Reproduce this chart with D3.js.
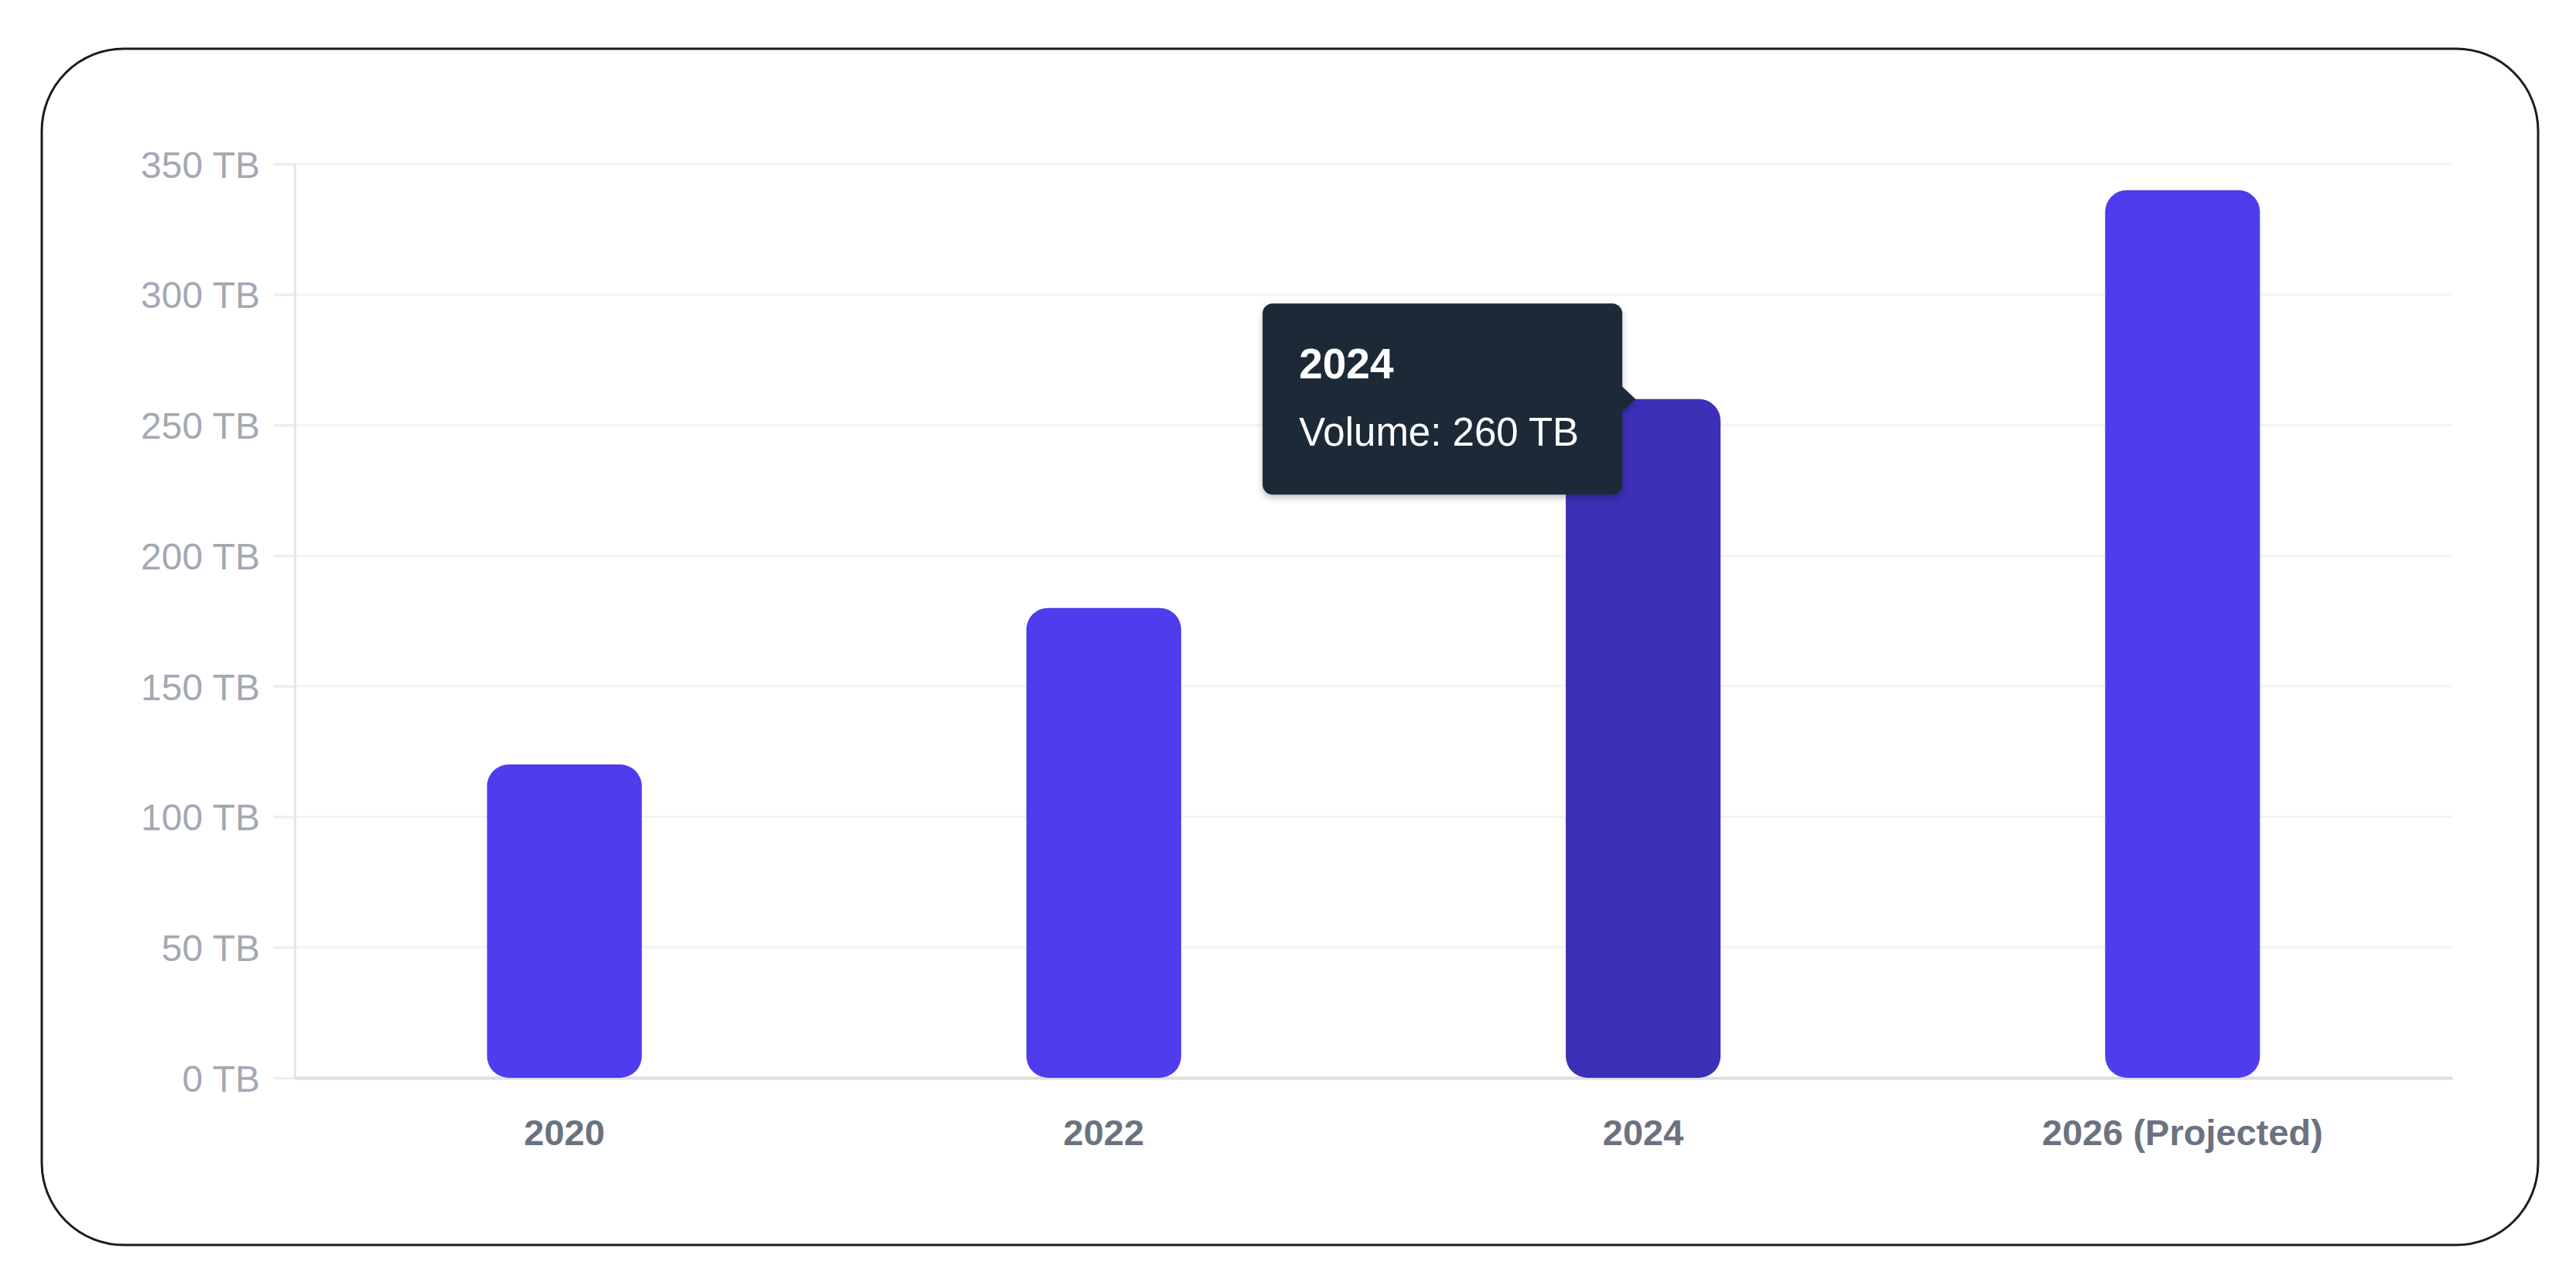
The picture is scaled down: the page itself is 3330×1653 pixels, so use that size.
<!DOCTYPE html>
<html>
<head>
<meta charset="utf-8">
<script src="https://cdn.jsdelivr.net/npm/d3@7"></script>
<style>
  body { margin: 0; background: #fff; }
  text { font-family: "Liberation Sans", Arial, Helvetica, sans-serif; }
</style>
</head>
<body>
<svg width="3330" height="1653"></svg>
<script>
// data
var years = ["2020", "2022", "2024", "2026 (Projected)"];
var volumes = [120, 180, 260, 340];
var yTicks = [0, 50, 100, 150, 200, 250, 300, 350];
var hovered = "2024";

var svg = d3.select("svg"),
    margin = { top: 212, right: 160, bottom: 260, left: 381 },
    width = +svg.attr("width") - margin.left - margin.right,
    height = +svg.attr("height") - margin.top - margin.bottom;

// rounded card round the chart
svg.append("rect")
    .attr("x", 54).attr("y", 63)
    .attr("width", 3227).attr("height", 1546)
    .attr("rx", 106).attr("ry", 106)
    .attr("fill", "#fff")
    .attr("stroke", "#1c1c1c")
    .attr("stroke-width", 3);

var x = d3.scaleBand().domain(years).range([0, width])
    .paddingInner(0.713).paddingOuter(0.3565);
var y = d3.scaleLinear().domain([0, 350]).range([height, 0]);

var g = svg.append("g")
    .attr("transform", "translate(" + margin.left + "," + margin.top + ")");

// gridlines
g.append("g")
    .selectAll("line")
    .data(yTicks.filter(function (d) { return d > 0; }))
    .enter().append("line")
    .attr("x1", -28).attr("x2", width)
    .attr("y1", function (d) { return y(d); })
    .attr("y2", function (d) { return y(d); })
    .attr("stroke", "#f3f4f6")
    .attr("stroke-width", 3);

// y axis
var yAxis = g.append("g")
    .call(d3.axisLeft(y).tickValues(yTicks).tickSize(28).tickPadding(17)
        .tickFormat(function (d) { return d + " TB"; }));
yAxis.select(".domain").attr("stroke", "#e5e7eb").attr("stroke-width", 3);
yAxis.selectAll(".tick line").attr("stroke", "#eceef1").attr("stroke-width", 3);
yAxis.selectAll(".tick text")
    .attr("fill", "#a3a9b3")
    .style("font-size", "48px")
    .attr("dy", "0.36em");

// x axis
var xAxis = g.append("g")
    .attr("transform", "translate(0," + height + ")")
    .call(d3.axisBottom(x).tickSize(0).tickPadding(54));
xAxis.select(".domain").attr("stroke", "#dcdee2").attr("stroke-width", 4);
xAxis.selectAll(".tick text")
    .attr("fill", "#6b7280")
    .style("font-size", "47px")
    .style("font-weight", "bold");

// bars
g.selectAll(".bar")
    .data(years)
    .enter().append("rect")
    .attr("class", "bar")
    .attr("x", function (d) { return x(d); })
    .attr("y", function (d, i) { return y(volumes[i]); })
    .attr("width", x.bandwidth())
    .attr("height", function (d, i) { return height - y(volumes[i]); })
    .attr("rx", 28).attr("ry", 28)
    .attr("fill", function (d) { return d === hovered ? "#3d2fb7" : "#4f3cec"; });

// tooltip on the hovered bar
var hi = years.indexOf(hovered);
var tipX = x(hovered) + x.bandwidth() / 2 - 10,
    tipY = y(volumes[hi]),
    boxR = tipX - 17, boxW = 465, boxH = 247,
    boxL = boxR - boxW, boxT = tipY - boxH / 2;

var defs = svg.append("defs");
var f = defs.append("filter").attr("id", "shadow")
    .attr("x", "-10%").attr("y", "-10%").attr("width", "120%").attr("height", "130%");
f.append("feDropShadow").attr("dx", 0).attr("dy", 4).attr("stdDeviation", 4)
    .attr("flood-color", "#000").attr("flood-opacity", 0.25);

var tip = g.append("g").attr("filter", "url(#shadow)");
tip.append("rect")
    .attr("x", boxL).attr("y", boxT)
    .attr("width", boxW).attr("height", boxH)
    .attr("rx", 13).attr("fill", "#1f2937");
tip.append("path")
    .attr("d", "M" + (boxR - 1) + "," + (tipY - 17) + "L" + tipX + "," + tipY + "L" + (boxR - 1) + "," + (tipY + 17) + "Z")
    .attr("fill", "#1f2937");
tip.append("text")
    .attr("x", boxL + 47).attr("y", boxT + 97)
    .attr("fill", "#fff")
    .style("font-size", "55px")
    .style("font-weight", "bold")
    .text(hovered);
tip.append("text")
    .attr("x", boxL + 47).attr("y", boxT + 184)
    .attr("fill", "#fff")
    .style("font-size", "51px")
    .text("Volume: " + volumes[hi] + " TB");
</script>
</body>
</html>
